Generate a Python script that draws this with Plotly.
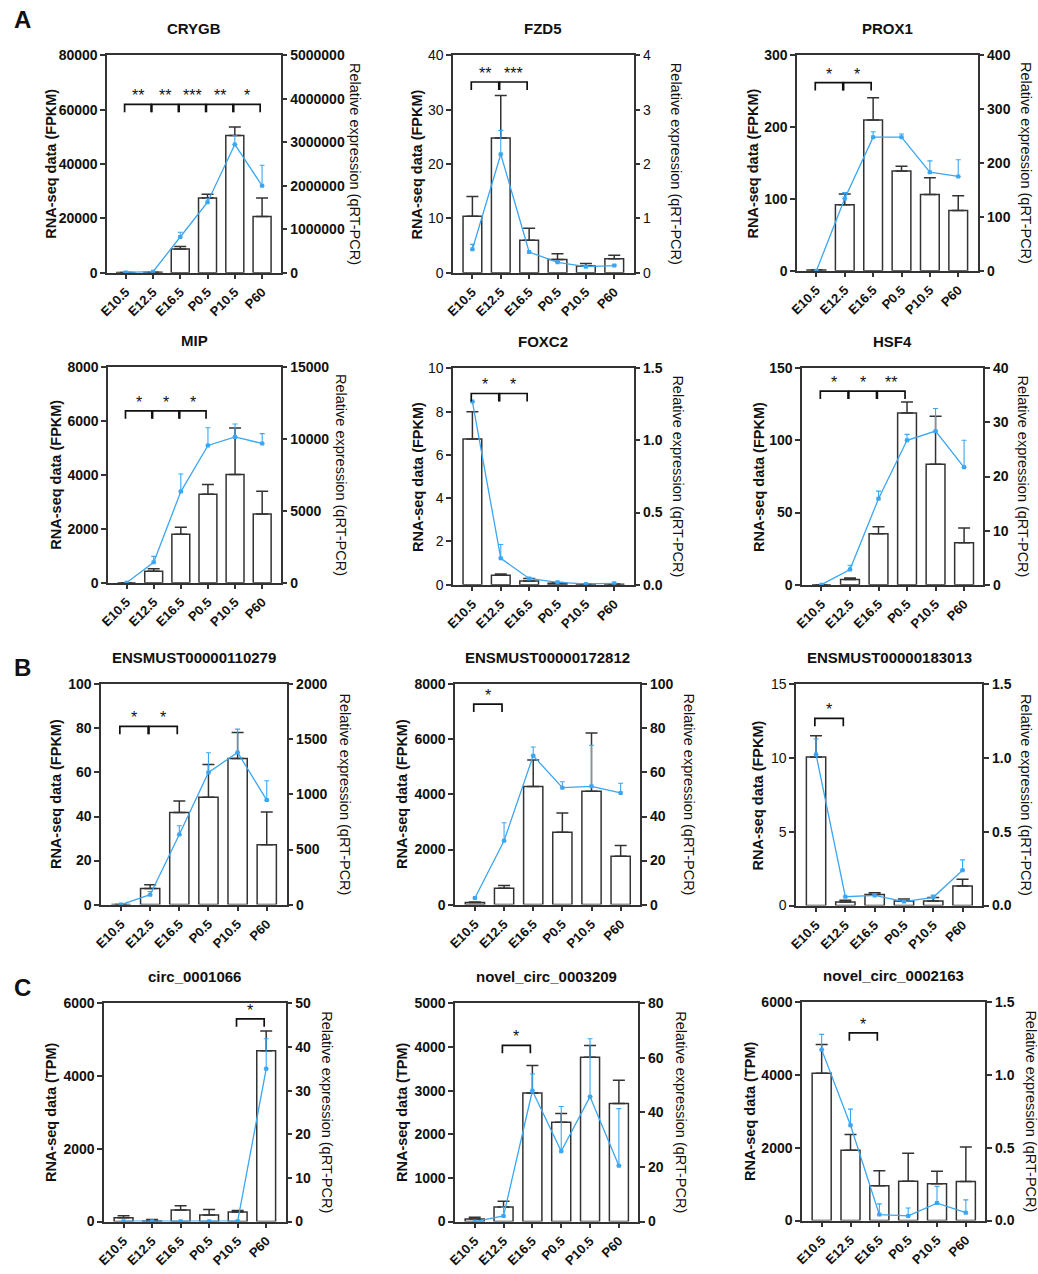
import plotly.graph_objects as go

# ── 数据 ──
stages = ["E10.5", "E12.5", "E16.5", "P0.5", "P10.5", "P60"]

crygb_seq = [30, 150, 8700, 27500, 50500, 20700]
crygb_seq_err = [0, 0, 900, 1400, 3100, 6800]
crygb_qpcr = [5000, 20000, 820000, 1620000, 2950000, 2000000]
crygb_qpcr_err = [0, 0, 110000, 80000, 200000, 470000]
crygb_sig = [(0, 1, "**"), (1, 2, "**"), (2, 3, "***"), (3, 4, "**"), (4, 5, "*")]

fzd5_seq = [10.4, 24.8, 5.96, 2.43, 1.2, 2.55]
fzd5_seq_err = [3.6, 7.8, 2.2, 1.07, 0.5, 0.65]
fzd5_qpcr = [0.43, 2.18, 0.38, 0.19, 0.11, 0.13]
fzd5_qpcr_err = [0.09, 0.44, 0, 0.02, 0.02, 0.01]
fzd5_sig = [(0, 1, "**"), (1, 2, "***")]

prox1_seq = [0.8, 92, 210, 139, 106, 84]
prox1_seq_err = [0, 15, 31, 6.5, 23.5, 20.5]
prox1_qpcr = [0, 134, 248, 248, 183, 175]
prox1_qpcr_err = [0, 11, 10, 6, 21, 31]
prox1_sig = [(0, 1, "*"), (1, 2, "*")]

mip_seq = [0, 428, 1800, 3290, 4024, 2557]
mip_seq_err = [0, 86, 257, 355, 1725, 843]
mip_qpcr = [0, 1420, 6350, 9560, 10160, 9700]
mip_qpcr_err = [0, 415, 1220, 1240, 895, 690]
mip_sig = [(0, 1, "*"), (1, 2, "*"), (2, 3, "*")]

foxc2_seq = [6.74, 0.44, 0.17, 0.06, 0.02, 0.02]
foxc2_seq_err = [1.26, 0.05, 0.12, 0.04, 0.01, 0.01]
foxc2_qpcr = [1.27, 0.183, 0.043, 0.016, 0.005, 0.009]
foxc2_qpcr_err = [0, 0.096, 0.007, 0.004, 0.002, 0.002]
foxc2_sig = [(0, 1, "*"), (1, 2, "*")]

hsf4_seq = [0, 3.65, 35.4, 119, 83.6, 29]
hsf4_seq_err = [0, 0.9, 4.8, 7.7, 33.3, 10.3]
hsf4_qpcr = [0, 2.8, 15.9, 26.7, 28.4, 21.7]
hsf4_qpcr_err = [0, 0.8, 1.4, 1.1, 4.2, 5.0]
hsf4_sig = [(0, 1, "*"), (1, 2, "*"), (2, 3, "**")]

t110279_seq = [0, 7.3, 41.8, 48.8, 66.4, 27.2]
t110279_seq_err = [0, 1.7, 5.2, 14.8, 11.8, 14.9]
t110279_qpcr = [0, 90, 636, 1200, 1382, 949]
t110279_qpcr_err = [0, 29, 80, 179, 212, 176]
t110279_sig = [(0, 1, "*"), (1, 2, "*")]

t172812_seq = [72, 597, 4287, 2627, 4119, 1755]
t172812_seq_err = [24, 96, 967, 704, 2114, 394]
t172812_qpcr = [3.0, 29.0, 67.6, 53.1, 53.7, 50.7]
t172812_qpcr_err = [0, 8.2, 4.0, 2.7, 18.7, 4.4]
t172812_sig = [(0, 1, "*")]

t183013_seq = [10.07, 0.25, 0.76, 0.31, 0.31, 1.32]
t183013_seq_err = [1.45, 0.11, 0.11, 0.14, 0.23, 0.47]
t183013_qpcr = [1.025, 0.06, 0.069, 0.027, 0.056, 0.239]
t183013_qpcr_err = [0.105, 0, 0.011, 0, 0.015, 0.071]
t183013_sig = [(0, 1, "*")]

c1066_seq = [108, 18, 316, 181, 262, 4699]
c1066_seq_err = [55, 36, 118, 153, 45, 542]
c1066_qpcr = [0.1, 0.1, 0.1, 0.1, 0.1, 35.0]
c1066_qpcr_err = [0, 0, 0, 0, 0, 6.9]
c1066_sig = [(4, 5, "*")]

n3209_seq = [60, 331, 2944, 2274, 3765, 2703]
n3209_seq_err = [38, 136, 633, 203, 271, 535]
n3209_qpcr = [0, 2.05, 47.95, 25.8, 45.8, 20.5]
n3209_qpcr_err = [0, 3.25, 6.15, 16.4, 21.2, 20.9]
n3209_sig = [(1, 2, "*")]

n2163_seq = [4048, 1934, 958, 1084, 1012, 1075]
n2163_seq_err = [795, 433, 415, 768, 343, 949]
n2163_qpcr = [1.175, 0.655, 0.041, 0.032, 0.12, 0.054]
n2163_qpcr_err = [0.105, 0.111, 0.074, 0.054, 0.115, 0.088]
n2163_sig = [(1, 2, "*")]

# name, unit, seq, seq_err, qpcr, qpcr_err, sig, sig level, left axis (max, dtick, fmt), right axis
panels = [
    ("CRYGB", "FPKM", crygb_seq, crygb_seq_err, crygb_qpcr, crygb_qpcr_err, crygb_sig, 62000,
     (80000, 20000, "d"), (5000000, 1000000, "d")),
    ("FZD5", "FPKM", fzd5_seq, fzd5_seq_err, fzd5_qpcr, fzd5_qpcr_err, fzd5_sig, 35.1,
     (40, 10, "d"), (4, 1, "d")),
    ("PROX1", "FPKM", prox1_seq, prox1_seq_err, prox1_qpcr, prox1_qpcr_err, prox1_sig, 262,
     (300, 100, "d"), (400, 100, "d")),
    ("MIP", "FPKM", mip_seq, mip_seq_err, mip_qpcr, mip_qpcr_err, mip_sig, 6385,
     (8000, 2000, "d"), (15000, 5000, "d")),
    ("FOXC2", "FPKM", foxc2_seq, foxc2_seq_err, foxc2_qpcr, foxc2_qpcr_err, foxc2_sig, 8.84,
     (10, 2, "d"), (1.5, 0.5, ".1f")),
    ("HSF4", "FPKM", hsf4_seq, hsf4_seq_err, hsf4_qpcr, hsf4_qpcr_err, hsf4_sig, 134.2,
     (150, 50, "d"), (40, 10, "d")),
    ("ENSMUST00000110279", "FPKM", t110279_seq, t110279_seq_err, t110279_qpcr, t110279_qpcr_err,
     t110279_sig, 80.9, (100, 20, "d"), (2000, 500, "d")),
    ("ENSMUST00000172812", "FPKM", t172812_seq, t172812_seq_err, t172812_qpcr, t172812_qpcr_err,
     t172812_sig, 7284, (8000, 2000, "d"), (100, 20, "d")),
    ("ENSMUST00000183013", "FPKM", t183013_seq, t183013_seq_err, t183013_qpcr, t183013_qpcr_err,
     t183013_sig, 12.7, (15, 5, "d"), (1.5, 0.5, ".1f")),
    ("circ_0001066", "TPM", c1066_seq, c1066_seq_err, c1066_qpcr, c1066_qpcr_err, c1066_sig, 5575,
     (6000, 2000, "d"), (50, 10, "d")),
    ("novel_circ_0003209", "TPM", n3209_seq, n3209_seq_err, n3209_qpcr, n3209_qpcr_err, n3209_sig, 4036,
     (5000, 1000, "d"), (80, 20, "d")),
    ("novel_circ_0002163", "TPM", n2163_seq, n2163_seq_err, n2163_qpcr, n2163_qpcr_err, n2163_sig, 5160,
     (6000, 2000, "d"), (1.5, 0.5, ".1f")),
]

# ── 版式（像素）：绘图区 x0, x1, top, bottom；左/右轴标题偏移；左/右刻度是否加粗 ──
W, H = 1038, 1274
boxes = [
    (99, 274, 48, 268), (448, 630, 48, 268), (795, 977, 48, 266),
    (100, 274, 364, 582), (448, 630, 365, 584), (800, 983, 365, 584),
    (93, 280, 685, 908), (450, 637, 685, 908), (794, 982, 685, 909),
    (96, 279, 1008, 1229), (450, 635, 1008, 1229), (800, 985, 1007, 1228),
]
left_off = [57, 36, 44, 53, 36, 44, 45, 53, 38, 53, 53, 52]
right_off = [75, 43, 49, 61, 45, 40, 58, 48, 44, 41, 42, 45]
bold_ticks = [(True, True), (False, False), (True, True), (True, True), (False, True), (True, True),
              (True, True), (True, True), (False, True), (True, True), (True, True), (True, True)]

FONT = "Arial, Liberation Sans, sans-serif"
INK = "#333333"
BLUE = "#3ba6f2"


def name(base, i):
    return base if i == 1 else f"{base}{i}"


def px(x):
    return x / W


def py(y):
    return 1 - y / H


fig = go.Figure()
layout = {}
shapes = []
annotations = []

for k, (title, unit, seq, seq_err, qpcr, qpcr_err, sig, level, lax, rax) in enumerate(panels):
    xi, yl, yr = k + 1, 2 * k + 1, 2 * k + 2
    x0, x1, top, bot = boxes[k]
    xref, ylref, yrref = name("x", xi), name("y", yl), name("y", yr)

    fig.add_trace(go.Bar(
        x=stages, y=seq, xaxis=xref, yaxis=ylref, width=0.66,
        marker=dict(color="white", line=dict(color=INK, width=1.5)),
        error_y=dict(type="data", symmetric=False, array=seq_err, arrayminus=[0] * len(seq),
                     color=INK, thickness=1.5, width=6),
        showlegend=False,
    ))
    fig.add_trace(go.Scatter(
        x=stages, y=qpcr, xaxis=xref, yaxis=yrref, mode="lines+markers",
        line=dict(color=BLUE, width=1.3),
        marker=dict(symbol="square", size=4, color=BLUE),
        error_y=dict(type="data", symmetric=False, array=qpcr_err, arrayminus=[0] * len(qpcr),
                     color=BLUE, thickness=1.1, width=2.5),
        showlegend=False,
    ))

    lb, rb = bold_ticks[k]
    layout[name("xaxis", xi)] = dict(
        domain=[px(x0), px(x1)], anchor=ylref, type="category",
        range=[-0.68, len(stages) - 1 + 0.68],
        showline=True, mirror=True, linecolor=INK, linewidth=1.5,
        ticks="outside", ticklen=5, tickwidth=1.5, tickcolor=INK, tickangle=-45,
        tickfont=dict(family=FONT, size=13, color="#111", weight="bold"),
        showgrid=False, zeroline=False, fixedrange=True,
    )
    layout[name("yaxis", yl)] = dict(
        domain=[py(bot), py(top)], anchor=xref, range=[0, lax[0]], dtick=lax[1], tickformat=lax[2],
        showline=True, linecolor=INK, linewidth=1.5,
        ticks="outside", ticklen=5, tickwidth=1.5, tickcolor=INK,
        tickfont=dict(family=FONT, size=14, color="#111", weight="bold" if lb else "normal"),
        showgrid=False, zeroline=False,
    )
    layout[name("yaxis", yr)] = dict(
        overlaying=ylref, side="right", anchor=xref, range=[0, rax[0]], dtick=rax[1],
        tickformat=rax[2],
        showline=True, linecolor=INK, linewidth=1.5,
        ticks="outside", ticklen=5, tickwidth=1.5, tickcolor=INK,
        tickfont=dict(family=FONT, size=14, color="#111", weight="bold" if rb else "normal"),
        showgrid=False, zeroline=False,
    )

    # 显著性括号
    drop = lax[0] * 8 / (bot - top)
    for i, j, stars in sig:
        xs, xe = i - 0.04, j - 0.07
        shapes.append(dict(
            type="path", xref=xref, yref=ylref,
            path=f"M {xs} {level - drop} L {xs} {level} L {xe} {level} L {xe} {level - drop}",
            line=dict(color="#111", width=1.7),
        ))
        annotations.append(dict(
            x=(xs + xe) / 2, y=level, xref=xref, yref=ylref, text=stars, showarrow=False,
            xanchor="center", yanchor="bottom", yshift=-2,
            font=dict(family=FONT, size=16, color="#111"),
        ))

    cy = py((top + bot) / 2)
    annotations.append(dict(
        x=px((x0 + x1) / 2), y=py(top - 27), xref="paper", yref="paper", text=title,
        xanchor="center", yanchor="middle", showarrow=False,
        font=dict(family=FONT, size=15, color="#111", weight="bold"),
    ))
    annotations.append(dict(
        x=px(x0 - left_off[k]), y=cy, xref="paper", yref="paper", textangle=-90,
        xanchor="center", yanchor="middle",
        text=f"RNA-seq data ({unit})", showarrow=False,
        font=dict(family=FONT, size=14.5, color="#111", weight=600),
    ))
    annotations.append(dict(
        x=px(x1 + right_off[k]), y=cy, xref="paper", yref="paper", textangle=90,
        xanchor="center", yanchor="middle",
        text="Relative expression (qRT-PCR)", showarrow=False,
        font=dict(family=FONT, size=14.5, color="#111"),
    ))

for letter, ypos in [("A", 12), ("B", 668), ("C", 992)]:
    annotations.append(dict(
        x=px(3), y=py(ypos), xref="paper", yref="paper", text=letter, showarrow=False,
        xanchor="left", yanchor="middle",
        font=dict(family=FONT, size=24, color="#111", weight="bold"),
    ))

fig.update_layout(
    width=W, height=H, margin=dict(l=0, r=0, t=0, b=0),
    paper_bgcolor="white", plot_bgcolor="white",
    bargap=0.34, shapes=shapes, annotations=annotations,
    **layout,
)

# 去掉 body 默认边距，使图正好占满窗口
fig.write_html("out.html", config={"displayModeBar": False},
               post_script="document.body.style.margin='0';")
